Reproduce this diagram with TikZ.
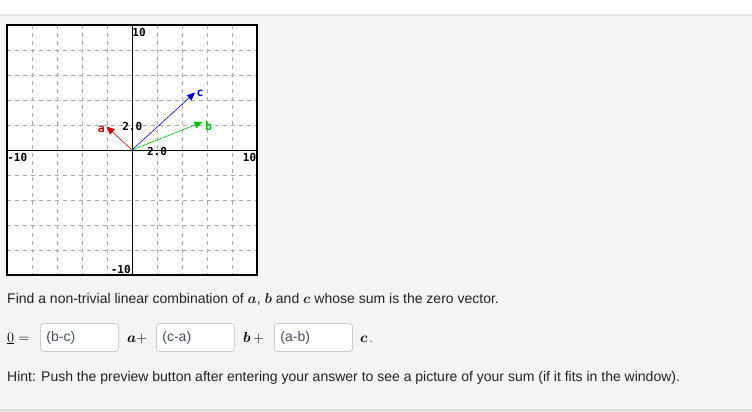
\documentclass[tikz,border=0pt]{standalone}
\usepackage{fontspec}
\setmainfont{Liberation Sans}
\newfontfamily\graphfont{DejaVu Sans Mono Bold}
\usetikzlibrary{arrows.meta}
\definecolor{pagebg}{HTML}{F4F4F4}
\definecolor{stripline}{HTML}{E6E6E6}
\definecolor{bottomline}{HTML}{DCDCDC}
\definecolor{gridgray}{HTML}{AAAAAA}
\definecolor{vecred}{HTML}{CC0000}
\definecolor{vecgreen}{HTML}{00C000}
\definecolor{vecblue}{HTML}{0000CC}
\definecolor{boxborder}{HTML}{CCCCCC}
\definecolor{inputtext}{HTML}{46505F}
\definecolor{bodytext}{HTML}{222222}
\tikzset{
  gridline/.style={gridgray, line width=0.8pt, dash pattern=on 4pt off 4pt},
  axisline/.style={black, line width=1pt},
  ticklabel/.style={font=\graphfont\fontsize{11}{12}\selectfont, inner sep=0pt, text=black},
  vec/.style={line width=0.6pt, -{Triangle[length=8pt,width=7pt]}},
  veclabel/.style={font=\graphfont\fontsize{11.5}{12}\selectfont, inner sep=0pt},
  bodyline/.style={anchor=base west, inner sep=0pt, text=bodytext, font=\fontsize{14}{17}\selectfont},
  inbox/.style={draw=boxborder, fill=white, rounded corners=3pt, line width=0.8pt,
    minimum height=28pt, text width=66pt, inner xsep=6pt, align=left, anchor=west,
    text=inputtext, font=\fontsize{14}{17}\selectfont},
}
\begin{document}
\begin{tikzpicture}[x=1pt,y=-1pt]
\useasboundingbox (0,0) rectangle (752,412);
\fill[pagebg] (0,0) rectangle (752,412);
\fill[white] (0,0) rectangle (752,14);
\draw[stripline, line width=2pt] (0,15) -- (752,15);
\draw[bottomline, line width=2pt] (0,410) -- (752,410);

% graph area
\fill[white] (7,25) rectangle (257,275);
\foreach \g in {32,57,82,107,157,182,207,232} {
  \draw[gridline] (\g,25) -- (\g,275);
}
\foreach \g in {50,75,100,125,175,200,225,250} {
  \draw[gridline] (7,\g) -- (257,\g);
}
\draw[axisline] (7,150) -- (257,150);
\draw[axisline] (132,25) -- (132,275);
\draw[black, line width=1.5pt] (7,25) rectangle (257,275);

% tick labels
\node[ticklabel] (ytop) at (139,32.5) {10};
\node[ticklabel] (ybot) at (120.7,269.7) {-10};
\node[ticklabel] (xleft) at (17.3,157) {-10};
\node[ticklabel] (xright) at (249.5,157) {10};
\node[ticklabel] (ytwo) at (132.2,126.2) {2.0};
\node[ticklabel] (xtwo) at (157,151.5) {2.0};

% vectors
\coordinate (O) at (132,150);
\coordinate (ta) at (106.5,126.5);
\coordinate (tb) at (202.5,122);
\coordinate (tc) at (195,92.5);
\draw[vec, vecred] (O) -- (ta);
\draw[vec, vecgreen] (O) -- (tb);
\draw[vec, vecblue] (O) -- (tc);
\node[veclabel, text=vecred] (la) at (101.3,129.5) {a};
\node[veclabel, text=vecgreen] (lb) at (208.7,126.5) {b};
\node[veclabel, text=vecblue] (lc) at (200,93.7) {c};

% text
\node[bodyline] (find) at (7,303.5) {Find a non-trivial linear combination of {\boldmath$a$}, {\boldmath$b$} and {\boldmath$c$} whose sum is the zero vector.};
\node[bodyline, text=black] (zero) at (7,342) {$\underline{0}=$};
\node[inbox] (box1) at (40,337.5) {(b-c)};
\node[bodyline, text=black] (pa) at (127,342) {{\boldmath$a$}$+$};
\node[inbox] (box2) at (156,337.5) {(c-a)};
\node[bodyline, text=black] (pb) at (243,342) {{\boldmath$b$}$\,+$};
\node[inbox] (box3) at (274,337.5) {(a-b)};
\node[bodyline, text=black] (pc) at (360,342) {{\boldmath$c$}\,\fontsize{10}{10}\selectfont.};
\node[bodyline] (hint) at (7,381.5) {Hint: Push the preview button after entering your answer to see a picture of your sum (if it fits in the window).};
\end{tikzpicture}
\end{document}
